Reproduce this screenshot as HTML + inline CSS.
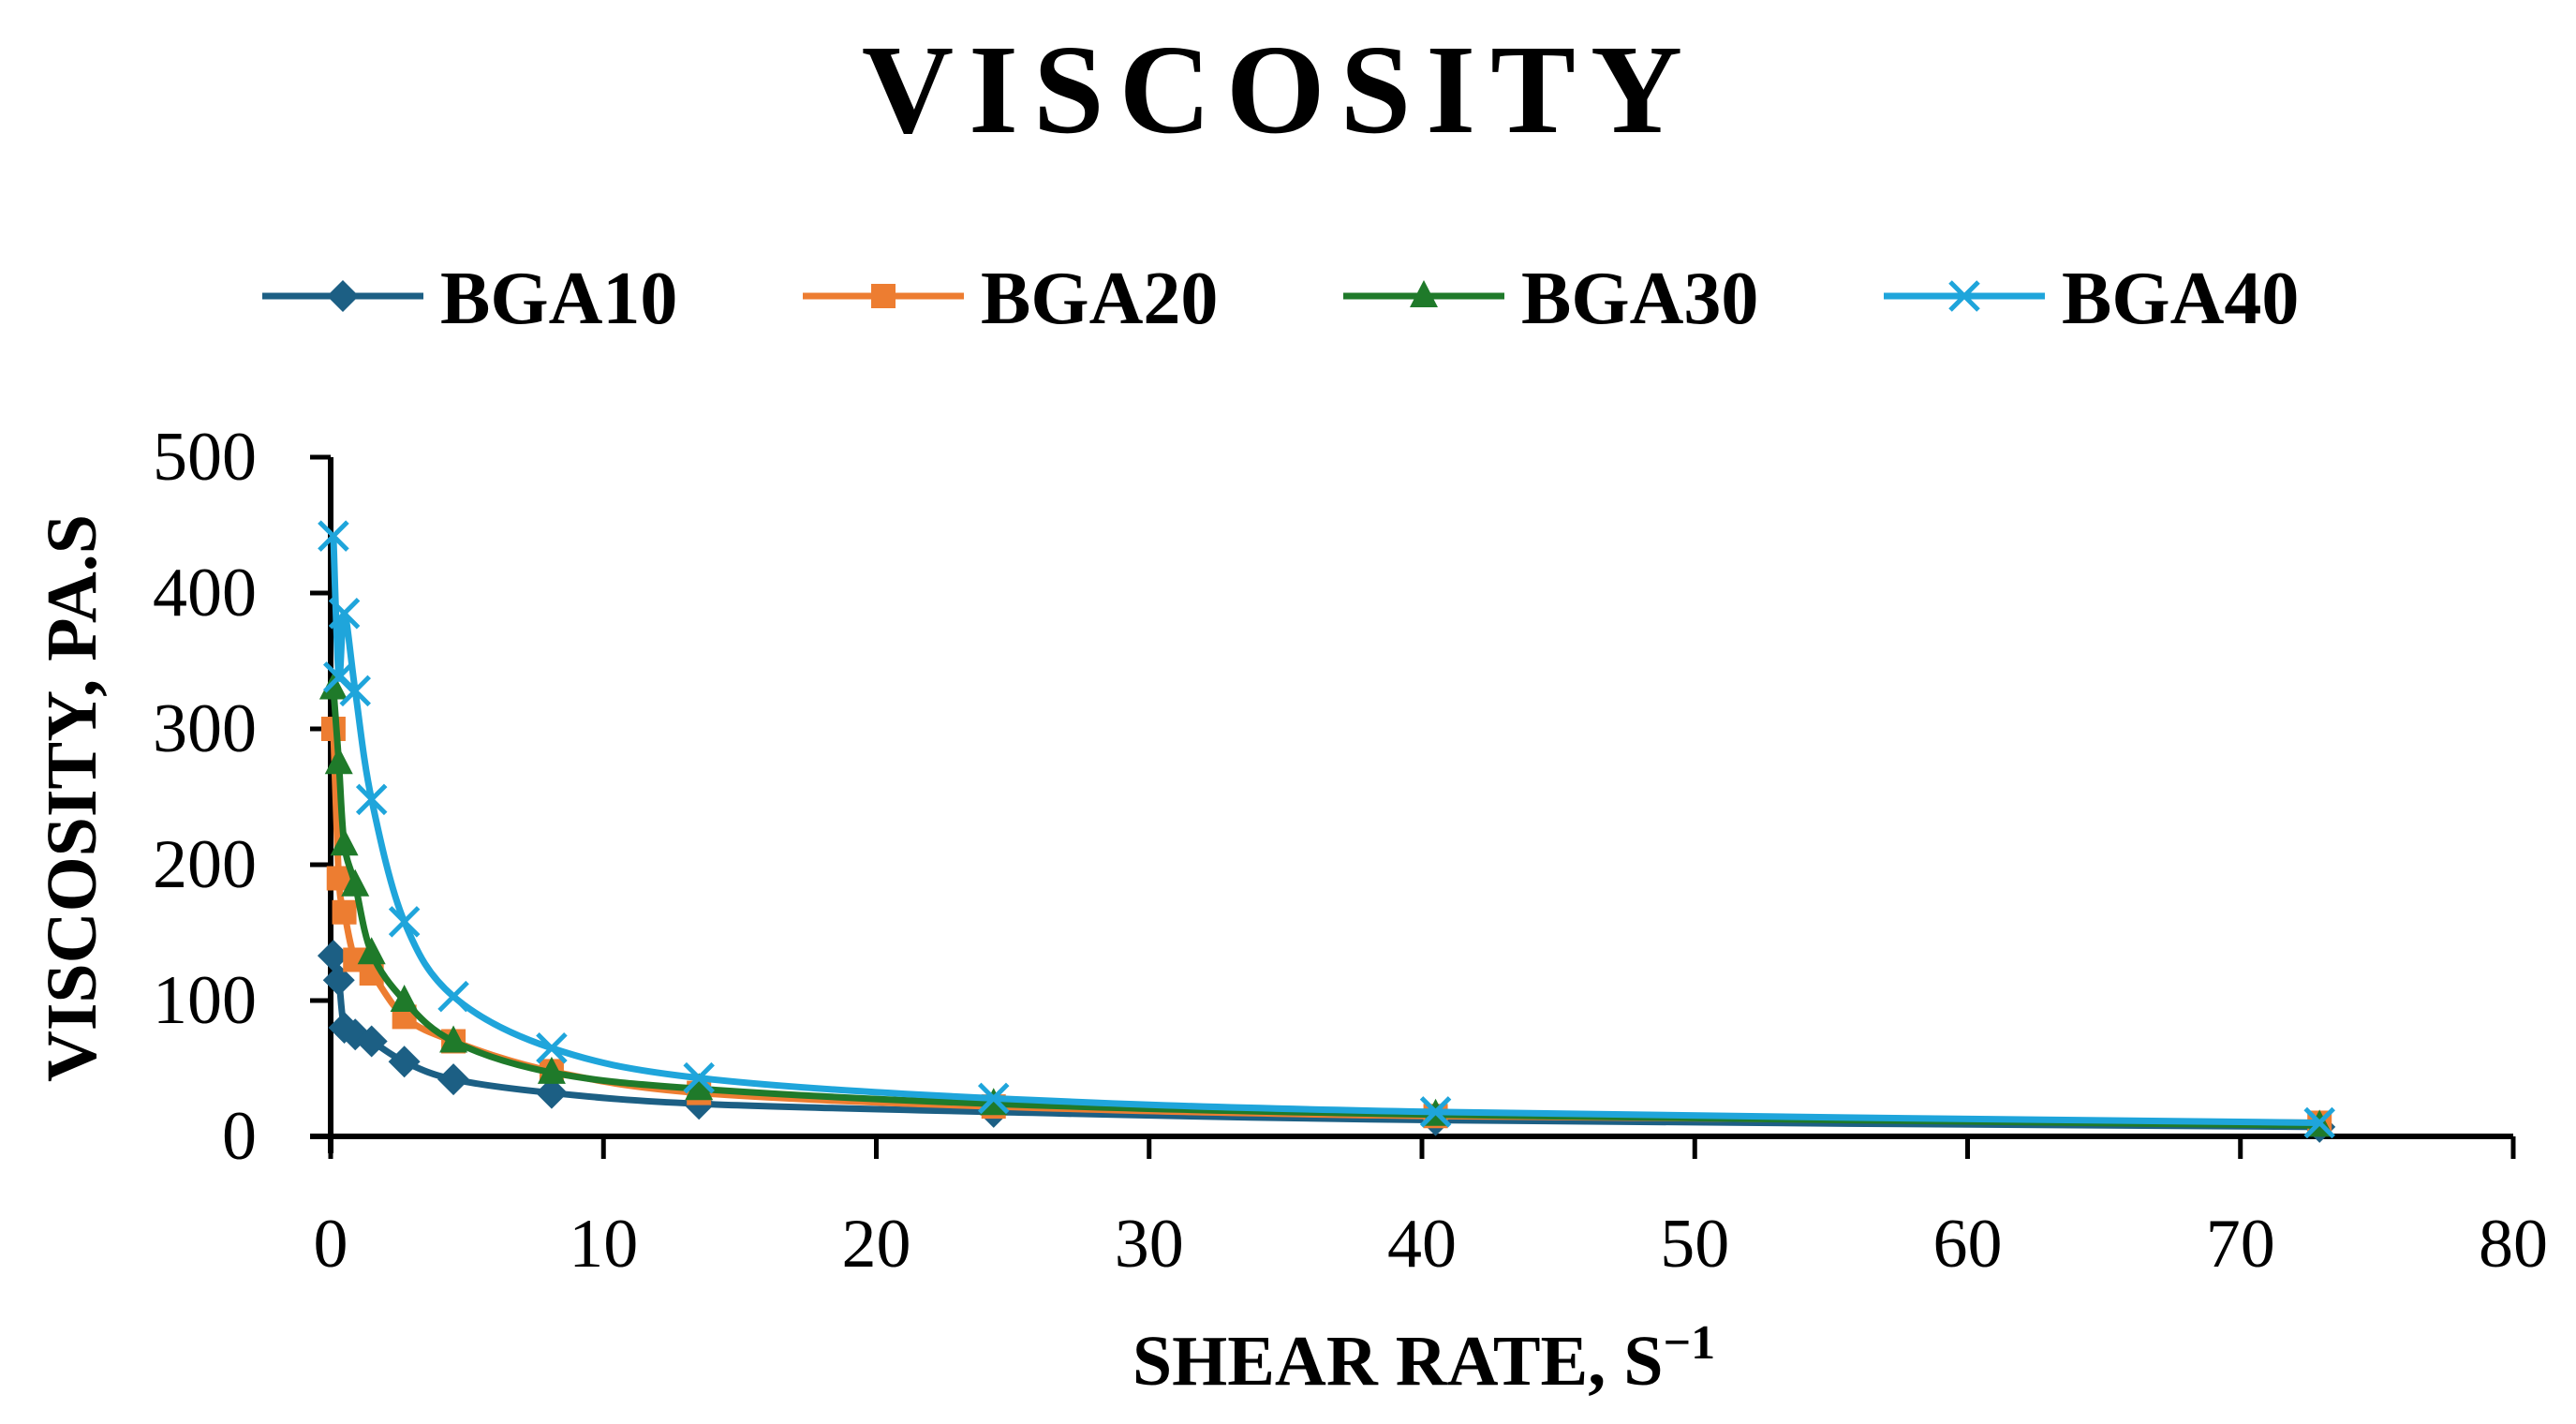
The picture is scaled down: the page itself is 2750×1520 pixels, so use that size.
<!DOCTYPE html>
<html><head><meta charset="utf-8"><style>
html,body{margin:0;padding:0;background:#fff;}
svg{display:block;}
text{font-family:"Liberation Serif",serif;fill:#000;}
</style></head><body>
<svg id="chart" width="2750" height="1520" viewBox="0 0 2750 1520" xmlns="http://www.w3.org/2000/svg">
<text x="1366" y="141" text-anchor="middle" font-size="136" font-weight="bold" letter-spacing="16">VISCOSITY</text>
<g id="legend"></g>
<g id="axes"></g>
<g id="plot"></g>
<text x="1520" y="1478" text-anchor="middle" font-size="76" font-weight="bold">SHEAR RATE, S<tspan dy="-28" font-size="52">−1</tspan></text>
<text transform="translate(102,852) rotate(-90)" text-anchor="middle" font-size="76" font-weight="bold">VISCOSITY, PA.S</text>
</svg>
<script>
const shearRate = [0.1, 0.3, 0.5, 0.9, 1.5, 2.7, 4.5, 8.1, 13.5, 24.3, 40.5, 72.9];
const bga10 = [133, 115, 80, 75, 70, 55, 42, 32, 24, 18, 12, 7];
const bga20 = [300, 190, 165, 130, 120, 88, 70, 48, 32, 22, 15, 10];
const bga30 = [330, 275, 215, 185, 135, 100, 70, 47, 35, 24, 16, 8];
const bga40 = [442, 338, 385, 328, 248, 158, 103, 65, 43, 28, 18, 10];
const seriesNames = ["BGA10", "BGA20", "BGA30", "BGA40"];
const xTicks = [0, 10, 20, 30, 40, 50, 60, 70, 80];
const yTicks = [0, 100, 200, 300, 400, 500];

const NS = "http://www.w3.org/2000/svg";
const X0 = 353, X1 = 2683, Y0 = 1213, Y1 = 488;
function xs(v){ return X0 + (v - 0) / 80 * (X1 - X0); }
function ys(v){ return Y0 - (v - 0) / 500 * (Y0 - Y1); }
function mk(tag, attrs, parent){ const e = document.createElementNS(NS, tag); for (const k in attrs) e.setAttribute(k, attrs[k]); parent.appendChild(e); return e; }

const colors = ["#1C5F84", "#ED7D31", "#1F7A2A", "#1FA5DB"];
const markers = ["diamond", "square", "triangle", "cross"];
const data = [bga10, bga20, bga30, bga40];

const axes = document.getElementById("axes");
const plot = document.getElementById("plot");
const legend = document.getElementById("legend");

let yl = mk("line", {x1:X0, y1:Y1, x2:X0, y2:Y0+18, stroke:"#000", "stroke-width":6}, axes);


let xl = mk("line", {x1:X0-22, y1:Y0, x2:X1, y2:Y0, stroke:"#000", "stroke-width":6}, axes);


yTicks.forEach(t => {
  const y = ys(t);
  const tk = mk("line", {x1:X0-22, y1:y, x2:X0, y2:y, stroke:"#000", "stroke-width":5}, axes);
  
  
  const tx = mk("text", {x:274, y:y+24, "text-anchor":"end", "font-size":74}, axes);
  tx.textContent = t;
  
  
});
xTicks.forEach(t => {
  const x = xs(t);
  const tk = mk("line", {x1:x, y1:Y0, x2:x, y2:Y0+24, stroke:"#000", "stroke-width":5}, axes);
  
  
  const tx = mk("text", {x:x, y:1352, "text-anchor":"middle", "font-size":74}, axes);
  tx.textContent = t;
  
  
});

function marker(type, x, y, color, parent){
  let e;
  if (type === "diamond") e = mk("polygon", {points:`${x},${y-17} ${x+17},${y} ${x},${y+17} ${x-17},${y}`, fill:color}, parent);
  else if (type === "square") e = mk("rect", {x:x-13, y:y-13, width:26, height:26, fill:color}, parent);
  else if (type === "triangle") e = mk("polygon", {points:`${x},${y-17} ${x+15},${y+12} ${x-15},${y+12}`, fill:color}, parent);
  else e = mk("path", {d:`M${x-15},${y-15}L${x+15},${y+15}M${x-15},${y+15}L${x+15},${y-15}`, stroke:color, "stroke-width":5, fill:"none"}, parent);
  return e;
}

function smoothPath(pts){
  let d = `M${pts[0][0]},${pts[0][1]}`;
  for (let i = 0; i < pts.length - 1; i++) {
    const p0 = pts[i-1] || pts[i], p1 = pts[i], p2 = pts[i+1], p3 = pts[i+2] || p2;
    const c1x = p1[0] + (p2[0]-p0[0])/6, c1y = p1[1] + (p2[1]-p0[1])/6;
    const c2x = p2[0] - (p3[0]-p1[0])/6, c2y = p2[1] - (p3[1]-p1[1])/6;
    d += `C${c1x},${c1y} ${c2x},${c2y} ${p2[0]},${p2[1]}`;
  }
  return d;
}

data.forEach((vals, si) => {
  const g = mk("g", {}, plot);
  
  
  const pts = vals.map((v, i) => [xs(shearRate[i]), ys(v)]);
  const p = mk("path", {d:smoothPath(pts), fill:"none", stroke:colors[si], "stroke-width":7}, g);
  
  
  pts.forEach(pt => {
    const m = marker(markers[si], pt[0], pt[1], colors[si], g);
    
    
  });
});

const legX = [280, 857, 1434, 2011];
seriesNames.forEach((n, i) => {
  const g = mk("g", {}, legend);
  
  
  const x = legX[i], y = 316;
  mk("line", {x1:x, y1:y, x2:x+172, y2:y, stroke:colors[i], "stroke-width":7}, g);
  marker(markers[i], x+86, y, colors[i], g);
  const t = mk("text", {x:x+190, y:y+29, "font-size":80, "font-weight":"bold"}, g);
  t.textContent = n;
});
</script>
</body></html>
